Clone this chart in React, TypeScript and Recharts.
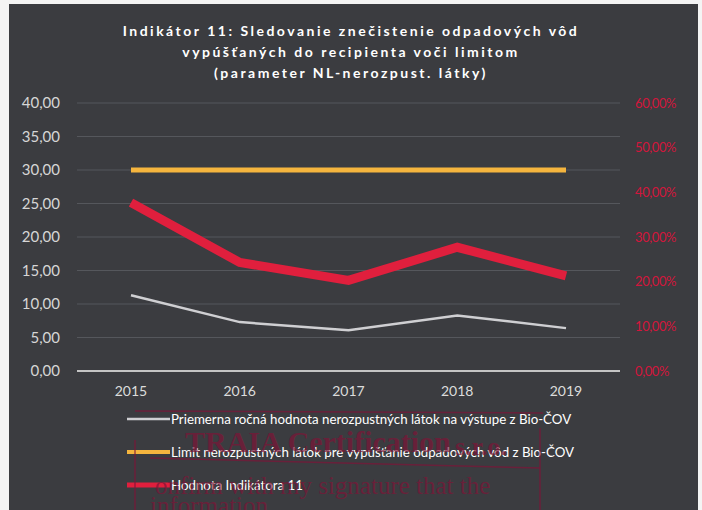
import React from "react"
import { LineChart, Line, XAxis, YAxis, CartesianGrid } from "recharts"

const years = ["2015", "2016", "2017", "2018", "2019"]
const avgValues = [11.3, 7.3, 6.1, 8.3, 6.4]
const limitValues = [30, 30, 30, 30, 30]
const indicatorValues = [37.7, 24.3, 20.3, 27.7, 21.3]
const leftTicks = [0, 5, 10, 15, 20, 25, 30, 35, 40]
const rightTicks = [0, 10, 20, 30, 40, 50, 60]

const titleLines = [
  "Indikátor 11: Sledovanie znečistenie odpadových vôd",
  "vypúšťaných do recipienta voči limitom",
  "(parameter NL-nerozpust. látky)",
]
const seriesNames = [
  "Priemerna ročná hodnota nerozpustných látok na výstupe z Bio-ČOV",
  "Limit nerozpustných látok pre vypúšťanie odpadových vôd z Bio-ČOV",
  "Hodnota Indikátora 11",
]

const colors = { avg: "#cfcfd2", limit: "#f5b53e", indicator: "#e01f3d" }

const data = years.map((year, i) => ({
  year,
  avg: avgValues[i],
  limit: limitValues[i],
  indicator: indicatorValues[i],
}))

const fmt = (v: number) => v.toFixed(2).replace(".", ",")

// scanned stamp that lies over the lower part of the chart
function Stamp() {
  const ink = "rgba(125,20,55,0.7)"
  return (
    <svg width={702} height={510} style={{ position: "absolute", left: 0, top: 0, pointerEvents: "none" }}>
      <line x1={135} y1={411} x2={543} y2={413} stroke={ink} strokeWidth={1.5} />
      <line x1={150} y1={458} x2={540} y2={468} stroke={ink} strokeWidth={1.5} />
      <line x1={540} y1={428} x2={540} y2={510} stroke={ink} strokeWidth={1.5} />
      <line x1={135} y1={440} x2={135} y2={510} stroke={ink} strokeWidth={1.5} />
      <text x={185} y={452} fill={ink} fontFamily="Liberation Serif, serif" fontSize={30} fontWeight="bold">
        TRAIA Certification
      </text>
      <text x={455} y={455} fill={ink} fontFamily="Liberation Serif, serif" fontSize={26} fontWeight="bold">
        s.r.o.
      </text>
      <text x={155} y={494} fill={ink} fontFamily="Liberation Serif, serif" fontSize={25}>
        onfirm with my signature that the
      </text>
      <text x={150} y={514} fill={ink} fontFamily="Liberation Serif, serif" fontSize={25}>
        information
      </text>
    </svg>
  )
}

export default function App() {
  const keys = ["avg", "limit", "indicator"] as const
  const widths = [2.5, 4, 5]
  return (
    <div style={{ position: "absolute", left: 0, top: 0, width: 702, height: 510, background: "#f4f4f4", overflow: "hidden" }}>
      <div style={{ position: "absolute", left: 9, top: 4, width: 689, height: 506, background: "#3b3c40" }} />
      <div
        style={{
          position: "absolute",
          left: 0,
          top: 20,
          width: 702,
          textAlign: "center",
          color: "#ffffff",
          fontFamily: "Lato, sans-serif",
          fontWeight: "bold",
          fontSize: 14,
          letterSpacing: 2.5,
          lineHeight: "21px",
        }}
      >
        {titleLines.map((t) => (
          <div key={t}>{t}</div>
        ))}
      </div>
      <div style={{ position: "absolute", left: 0, top: 0 }}>
        <LineChart width={702} height={510} data={data} margin={{ top: 103, right: 0, bottom: 109, left: 0 }}>
          <CartesianGrid vertical={false} stroke="#55575c" strokeWidth={1} yAxisId="left" />
          <XAxis
            dataKey="year"
            padding={{ left: 54, right: 54 }}
            axisLine={{ stroke: "#c4c4c4", strokeWidth: 2 }}
            tickLine={false}
            tickSize={0}
            tickMargin={15}
            height={30}
            tick={{ fill: "#dcdcdc", fontSize: 14, fontFamily: "Lato, sans-serif" }}
          />
          <YAxis
            yAxisId="left"
            width={77}
            domain={[0, 40]}
            ticks={leftTicks}
            tickFormatter={fmt}
            axisLine={false}
            tickLine={false}
            tickSize={0}
            tickMargin={17}
            tick={{ fill: "#d6d6d6", fontSize: 15, fontFamily: "Lato, sans-serif" }}
          />
          <YAxis
            yAxisId="right"
            orientation="right"
            width={82}
            domain={[0, 60]}
            ticks={rightTicks}
            tickFormatter={(v: number) => fmt(v) + "%"}
            axisLine={false}
            tickLine={false}
            tickSize={0}
            tickMargin={15}
            tick={{ fill: "#d2163c", fontSize: 13, fontFamily: "Lato, sans-serif", letterSpacing: -0.4 }}
          />
          <Line yAxisId="left" dataKey="limit" stroke={colors.limit} strokeWidth={5} dot={false} isAnimationActive={false} />
          <Line yAxisId="right" dataKey="indicator" stroke={colors.indicator} strokeWidth={9} dot={false} isAnimationActive={false} />
          <Line yAxisId="left" dataKey="avg" stroke={colors.avg} strokeWidth={2.5} dot={false} isAnimationActive={false} />
        </LineChart>
      </div>
      <div style={{ position: "absolute", left: 127, top: 402, fontFamily: "Lato, sans-serif", fontSize: 13.3, color: "#ffffff" }}>
        {seriesNames.map((name, i) => (
          <div key={name} style={{ display: "flex", alignItems: "center", height: 33 }}>
            <svg width={43} height={10} style={{ marginRight: 1 }}>
              <line x1={0} y1={5} x2={43} y2={5} stroke={colors[keys[i]]} strokeWidth={widths[i]} />
            </svg>
            <span>{name}</span>
          </div>
        ))}
      </div>
      <Stamp />
    </div>
  )
}
